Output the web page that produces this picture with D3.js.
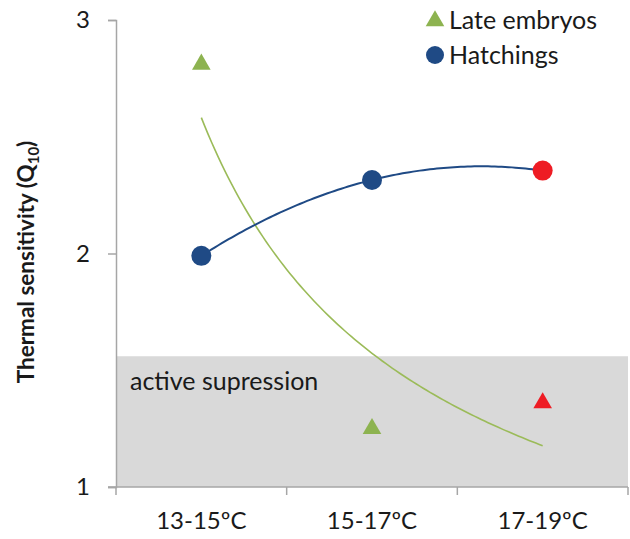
<!DOCTYPE html>
<html>
<head>
<meta charset="utf-8">
<script src="https://cdn.jsdelivr.net/npm/d3@7"></script>
<style>
	body { margin: 0; background: #fff; }
	text { font-family: Lato, "Open Sans", sans-serif; fill: #1a1a1a; }
</style>
</head>
<body>
<svg width="630" height="539"></svg>
<script>
// Data
var categories = ["13-15ºC", "15-17ºC", "17-19ºC"];
var embryos = [2.81, 1.25, 1.36];
var hatchings = [1.99, 2.315, 2.355];
var yTicks = [1, 2, 3];
var suppressionTop = 1.56;

var svg = d3.select("svg"),
	width = +svg.attr("width"),
	height = +svg.attr("height");

var x = d3.scaleBand().domain(categories).range([116, 628]);
var y = d3.scaleLinear().domain([1, 3]).range([487, 20]);
var cx = (i) => x(categories[i]) + x.bandwidth() / 2;

var green = "#8db350", blue = "#1f4a85", red = "#ee1c24";

// Shaded band (active supression)
svg.append("rect")
	.attr("x", x.range()[0])
	.attr("y", y(suppressionTop))
	.attr("width", x.range()[1] - x.range()[0])
	.attr("height", y(1) - y(suppressionTop))
	.attr("fill", "#d9d9d9");

svg.append("text")
	.attr("x", 130)
	.attr("y", 390)
	.style("font-size", "25px")
	.text("active supression");

// Axes
var yAxis = svg.append("g")
	.attr("transform", "translate(116,0)")
	.call(d3.axisLeft(y).tickValues(yTicks).tickSize(8).tickFormat(d3.format("d")));
var xAxis = svg.append("g")
	.attr("transform", "translate(0,487)")
	.call(d3.axisBottom(x).tickSize(0).tickPadding(25));

[yAxis, xAxis].forEach((g) => {
	g.select(".domain").attr("stroke", "#a6a6a6").attr("stroke-width", 1.5);
	g.selectAll(".tick line").attr("stroke", "#a6a6a6").attr("stroke-width", 1.5);
	g.selectAll("text").style("font-size", "24px").style("font-family", "Lato, sans-serif").attr("fill", "#1a1a1a");
});
yAxis.selectAll("text").attr("dx", "-15");
xAxis.select(".domain").attr("d", "M108,0H628");

// Band edge ticks on x axis
xAxis.selectAll("line.edge")
	.data(d3.range(categories.length + 1))
	.enter().append("line")
	.attr("x1", (i) => x.range()[0] + i * x.bandwidth())
	.attr("x2", (i) => x.range()[0] + i * x.bandwidth())
	.attr("y1", 0).attr("y2", 8)
	.attr("stroke", "#a6a6a6").attr("stroke-width", 1.5);

// Y axis title
svg.append("text")
	.attr("transform", "translate(34,262) rotate(-90)")
	.attr("text-anchor", "middle")
	.style("font-size", "22.5px")
	.style("font-weight", "bold")
	.html("Thermal sensitivity (Q<tspan dy='5' style='font-size:15px'>10</tspan><tspan dy='-5'>)</tspan>");

// Trendlines: power fit for embryos, quadratic for hatchings
var ts = d3.range(1, 3.001, 0.02);

function powerFit(vals) {
	var lx = vals.map((v, i) => Math.log(i + 1)), ly = vals.map(Math.log);
	var mx = d3.mean(lx), my = d3.mean(ly);
	var b = d3.sum(lx, (v, i) => (v - mx) * (ly[i] - my)) / d3.sum(lx, (v) => (v - mx) * (v - mx));
	var a = Math.exp(my - b * mx);
	return (t) => a * Math.pow(t, b);
}
function quadFit(v) {
	// exact through 3 points (x = 1, 2, 3)
	return (t) => v[0] * (t - 2) * (t - 3) / 2 - v[1] * (t - 1) * (t - 3) + v[2] * (t - 1) * (t - 2) / 2;
}

var tx = (t) => cx(0) + (t - 1) * x.bandwidth();
var line = d3.line().x((t) => tx(t));

var fe = powerFit(embryos), fh = quadFit(hatchings);

svg.append("path")
	.attr("d", line.y((t) => y(fe(t)))(ts))
	.attr("fill", "none").attr("stroke", "#9bbb59").attr("stroke-width", 1.6);

svg.append("path")
	.attr("d", line.y((t) => y(fh(t)))(ts))
	.attr("fill", "none").attr("stroke", blue).attr("stroke-width", 2);

// Points
var tri = d3.symbol().type(d3.symbolTriangle).size(150);

svg.append("g").selectAll("path")
	.data(embryos)
	.enter().append("path")
	.attr("d", tri)
	.attr("transform", (d, i) => "translate(" + cx(i) + "," + y(d) + ")")
	.attr("fill", (d, i) => i == 2 ? red : green);

svg.append("g").selectAll("circle")
	.data(hatchings)
	.enter().append("circle")
	.attr("cx", (d, i) => cx(i))
	.attr("cy", (d) => y(d))
	.attr("r", 10)
	.attr("fill", (d, i) => i == 2 ? red : blue);

// Legend
var legend = svg.append("g");
legend.append("path")
	.attr("d", tri)
	.attr("transform", "translate(435,21)")
	.attr("fill", green);
legend.append("circle")
	.attr("cx", 435).attr("cy", 55).attr("r", 9)
	.attr("fill", blue);
legend.selectAll("text")
	.data(["Late embryos", "Hatchings"])
	.enter().append("text")
	.attr("x", 449)
	.attr("y", (d, i) => 29 + i * 35)
	.style("font-size", "25px")
	.text((d) => d);
</script>
</body>
</html>
